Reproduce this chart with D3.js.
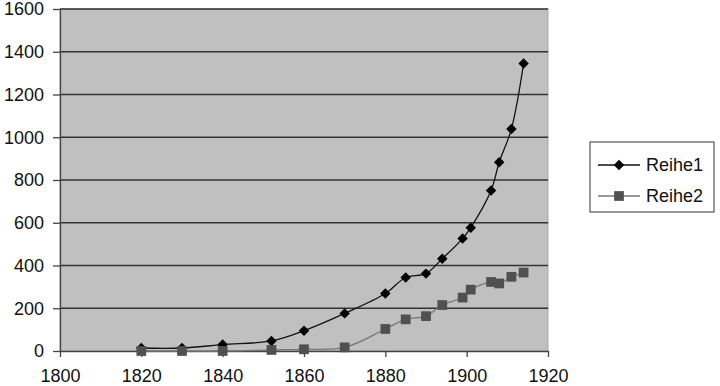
<!DOCTYPE html>
<html lang="de">
<head>
    <meta charset="UTF-8">
    <title>Reihe1 / Reihe2</title>
    <script src="https://d3js.org/d3.v7.min.js"></script>
    <style>
        body {
            margin: 0;
            background-color: #ffffff;
            font-family: "Liberation Sans", Arial, sans-serif;
        }
        .tick text {
            font-size: 18px;
            fill: #111;
        }
    </style>
</head>
<body>
    <svg id="chart" width="720" height="386"></svg>

    <script>
        // data
        const years = [1820, 1830, 1840, 1852, 1860, 1870, 1880, 1885, 1890, 1894, 1899, 1901, 1906, 1908, 1911, 1914];
        const reihe1 = [14, 14, 30, 47, 95, 176, 269, 344, 362, 432, 526, 577, 751, 883, 1039, 1345];
        const reihe2 = [0, 0, 0, 5, 8, 17, 103, 148, 163, 215, 250, 287, 323, 316, 347, 367];
        const xTicks = [1800, 1820, 1840, 1860, 1880, 1900, 1920];
        const yTicks = [0, 200, 400, 600, 800, 1000, 1200, 1400, 1600];
        const seriesNames = ["Reihe1", "Reihe2"];

        const svg = d3.select("#chart");
        const margin = { top: 9, right: 172, bottom: 35, left: 60 };
        const width = 720 - margin.left - margin.right;
        const height = 386 - margin.top - margin.bottom;

        const g = svg.append("g").attr("transform", `translate(${margin.left},${margin.top})`);

        const x = d3.scaleLinear().domain([1800, 1920]).range([0, width]);
        const y = d3.scaleLinear().domain([0, 1600]).range([height, 0]);

        // plot area
        g.append("rect")
            .attr("width", width)
            .attr("height", height)
            .attr("fill", "#c0c0c0")
            .attr("stroke", "#a8a8a8");

        // gridlines
        g.selectAll(".grid")
            .data(yTicks.slice(1))
            .enter().append("line")
            .attr("x1", 0)
            .attr("x2", width)
            .attr("y1", d => y(d))
            .attr("y2", d => y(d))
            .attr("stroke", "#333")
            .attr("stroke-width", 1.5);

        // axes
        const yAxis = g.append("g")
            .call(d3.axisLeft(y).tickValues(yTicks).tickFormat(d3.format("d")).tickSize(7).tickPadding(9).tickSizeOuter(0));
        const xAxis = g.append("g")
            .attr("transform", `translate(0,${height})`)
            .call(d3.axisBottom(x).tickValues(xTicks).tickFormat(d3.format("d")).tickSize(6).tickPadding(12).tickSizeOuter(0));
        [xAxis, yAxis].forEach(a => {
            a.select(".domain").attr("stroke", "#444").attr("stroke-width", 1.3);
            a.selectAll(".tick line").attr("stroke", "#444").attr("stroke-width", 1.3);
            a.selectAll(".tick text").style("font-family", "'Liberation Sans', Arial, sans-serif").attr("fill", "#111");
        });
        xAxis.selectAll(".tick text").attr("dy", "0.71em");

        const line = d3.line()
            .x(d => x(d[0]))
            .y(d => y(d[1]))
            .curve(d3.curveCatmullRom.alpha(0.5));

        const pts1 = years.map((yr, i) => [yr, reihe1[i]]);
        const pts2 = years.map((yr, i) => [yr, reihe2[i]]);

        const diamond = d3.symbol().type(d3.symbolDiamond2).size(70);
        const square = d3.symbol().type(d3.symbolSquare).size(95);

        // Reihe1
        g.append("path")
            .datum(pts1)
            .attr("d", line)
            .attr("fill", "none")
            .attr("stroke", "#111")
            .attr("stroke-width", 1.3);
        g.selectAll(".m1")
            .data(pts1)
            .enter().append("path")
            .attr("transform", d => `translate(${x(d[0])},${y(d[1])})`)
            .attr("d", diamond)
            .attr("fill", "#000");

        // Reihe2
        g.append("path")
            .datum(pts2)
            .attr("d", line)
            .attr("fill", "none")
            .attr("stroke", "#777")
            .attr("stroke-width", 1.3);
        g.selectAll(".m2")
            .data(pts2)
            .enter().append("path")
            .attr("transform", d => `translate(${x(d[0])},${y(d[1])})`)
            .attr("d", square)
            .attr("fill", "#505050");

        // legend
        const legend = svg.append("g").attr("transform", "translate(590,142)");
        legend.append("rect")
            .attr("width", 124)
            .attr("height", 70)
            .attr("fill", "#fff")
            .attr("stroke", "#555")
            .attr("stroke-width", 1.2);
        const rows = [
            { name: seriesNames[0], stroke: "#111", fill: "#000", sym: diamond },
            { name: seriesNames[1], stroke: "#777", fill: "#505050", sym: square }
        ];
        rows.forEach((r, i) => {
            const ly = 23 + i * 31;
            legend.append("line")
                .attr("x1", 8).attr("x2", 50)
                .attr("y1", ly).attr("y2", ly)
                .attr("stroke", r.stroke)
                .attr("stroke-width", 1.3);
            legend.append("path")
                .attr("transform", `translate(29,${ly})`)
                .attr("d", r.sym)
                .attr("fill", r.fill);
            legend.append("text")
                .attr("x", 56)
                .attr("y", ly)
                .attr("dy", "0.35em")
                .attr("font-size", 18)
                .attr("fill", "#111")
                .text(r.name);
        });
    </script>
</body>
</html>
